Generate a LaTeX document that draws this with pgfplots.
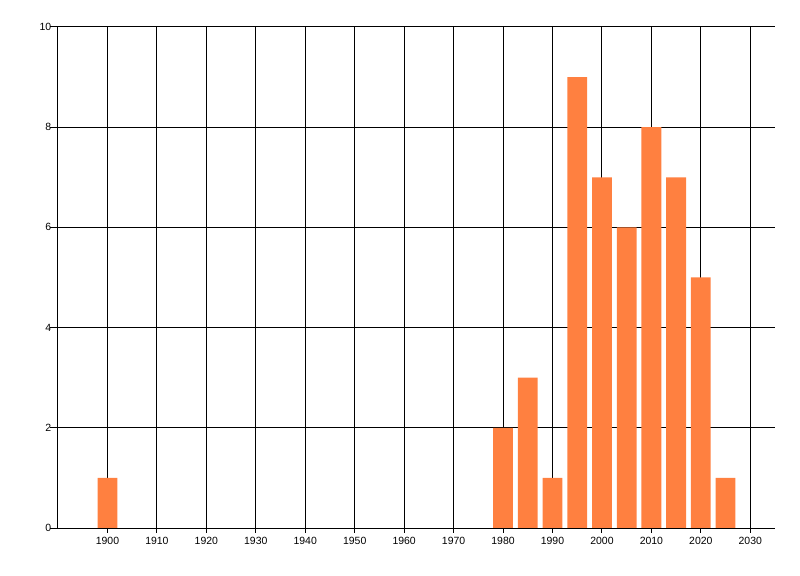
\documentclass[border=0pt]{standalone}
\usepackage{pgfplots}
\pgfplotsset{compat=1.18}
\usepackage{fontspec}
\setmainfont{Liberation Sans}
\definecolor{barorange}{RGB}{255,128,64}
\begin{document}
\begin{tikzpicture}
\useasboundingbox (0,0) rectangle (800bp,576bp);
\begin{axis}[
  at={(58bp,48bp)}, anchor=south west,
  scale only axis, width=717bp, height=501bp,
  xmin=1890, xmax=2035, ymin=0, ymax=10,
  axis lines*=left,
  axis line style={line width=1bp, black},
  xtick={1900,1910,...,2030},
  ytick={0,2,...,10},
  grid=major,
  major grid style={line width=1bp, black},
  tick align=outside,
  xtick style={/pgfplots/major tick length=5bp, line width=1bp, black},
  ytick style={/pgfplots/major tick length=8bp, line width=1bp, black},
  /pgf/number format/1000 sep={},
  /pgf/number format/assume math mode=true,
  tick label style={font=\fontsize{10.5}{12}\selectfont},
  xticklabel style={yshift=-1bp},
  yticklabel style={xshift=1bp},
  ybar, bar width=4,
]
\addplot[fill=barorange, draw=none] coordinates {
  (1900,1) (1980,2) (1985,3) (1990,1) (1995,9) (2000,7)
  (2005,6) (2010,8) (2015,7) (2020,5) (2025,1)
};
\end{axis}
\end{tikzpicture}
\end{document}
